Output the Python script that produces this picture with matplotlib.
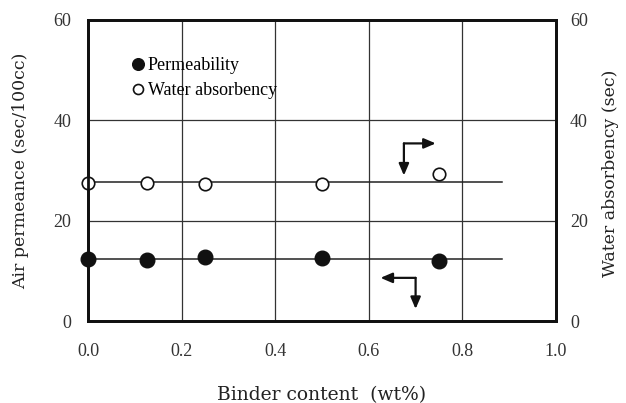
import matplotlib
matplotlib.use("Agg")
import matplotlib.pyplot as plt

# data
binder = [0.0, 0.125, 0.25, 0.5, 0.75]
permeability = [12.4, 12.2, 12.8, 12.6, 12.0]
absorbency = [27.6, 27.6, 27.4, 27.4, 29.4]
perm_level = 12.3
absorb_level = 27.8
line_end = 0.885
x_ticks = [0.0, 0.2, 0.4, 0.6, 0.8, 1.0]
y_ticks = [0, 20, 40, 60]

plt.rcParams['font.family'] = ['Liberation Serif', 'DejaVu Serif']

fig = plt.figure(figsize=(6.26, 4.03), dpi=100)
ax = fig.add_axes([88 / 626, 1 - 321 / 403, 468 / 626, 301 / 403])
ax2 = ax.twinx()

ax.set_xlim(0, 1.0)
ax.set_ylim(0, 60)
ax2.set_ylim(0, 60)

ax.set_xticks(x_ticks)
ax.set_xticklabels([f"{v:.1f}" for v in x_ticks])
ax.set_yticks(y_ticks)
ax2.set_yticks(y_ticks)
ax.grid(True, color='#333333', linewidth=0.9)
ax.set_axisbelow(True)
ax.tick_params(length=0, pad=18, labelsize=13, colors='#333333')
ax.tick_params(axis='y', pad=12)
ax.tick_params(axis='x', pad=16)
ax2.tick_params(length=0, pad=10, labelsize=13, colors='#333333')

for a in (ax, ax2):
    for s in a.spines.values():
        s.set_linewidth(2)
        s.set_color('#111111')

# horizontal trend lines
ax.plot([0, line_end], [perm_level, perm_level], color='#222222', lw=1.1, zorder=2)
ax.plot([0, line_end], [absorb_level, absorb_level], color='#222222', lw=1.1, zorder=2)

ax.plot(binder, permeability, 'o', color='#111111', ms=10.5, clip_on=False, zorder=4,
        label='Permeability')
ax.plot(binder, absorbency, 'o', mfc='white', mec='#111111', mew=1.2, ms=9, clip_on=False,
        zorder=4, label='Water absorbency')

# direction arrows
kw = dict(arrowstyle='-|>,head_length=0.7,head_width=0.3', color='#111111', lw=1.6,
          shrinkA=0, shrinkB=0)
ax.annotate('', xy=(0.675, 29.0), xytext=(0.675, 35.4), arrowprops=kw)
ax.annotate('', xy=(0.743, 35.4), xytext=(0.675, 35.4), arrowprops=kw)
ax.annotate('', xy=(0.625, 8.6), xytext=(0.70, 8.6), arrowprops=kw)
ax.annotate('', xy=(0.70, 2.4), xytext=(0.70, 8.6), arrowprops=kw)

leg = ax.legend(loc='upper left', bbox_to_anchor=(0.05, 0.93), frameon=False,
                fontsize=13, handletextpad=0.0, handlelength=1.1, labelspacing=0.45,
                markerscale=0.8)

lab = dict(family=['DejaVu Serif'], fontsize=12.5, color='#222222')
ax.set_xlabel('Binder content  (wt%)', family=['DejaVu Serif'], fontsize=13.5,
              color='#222222')
ax.xaxis.set_label_coords(0.5, -0.215)
ax.set_ylabel('Air permeance (sec/100cc)', **lab)
ax.yaxis.set_label_coords(-0.125, 0.5)
ax2.set_ylabel('Water absorbency (sec)', **lab)
ax2.yaxis.set_label_coords(1.099, 0.49)

fig.savefig('out.png', dpi=100)
